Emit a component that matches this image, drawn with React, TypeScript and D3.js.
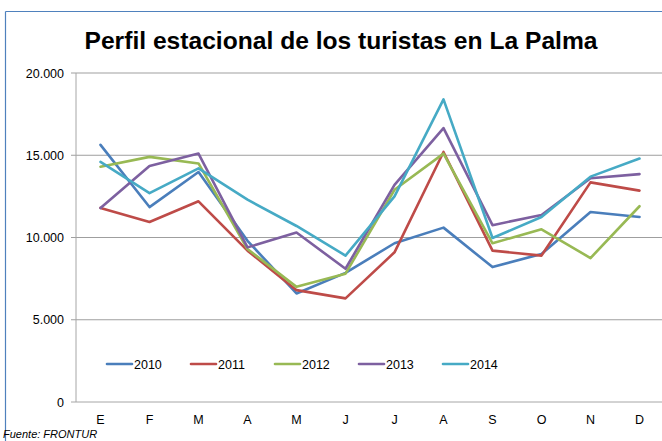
import * as d3 from 'd3';

const months = ['E', 'F', 'M', 'A', 'M', 'J', 'J', 'A', 'S', 'O', 'N', 'D'];
const years = ['2010', '2011', '2012', '2013', '2014'];
const colors = ['#4A7EBB', '#BE4B48', '#98B954', '#7D60A0', '#46AAC5'];

const s2010 = [15630, 11850, 13980, 9800, 6600, 7850, 9650, 10600, 8200, 9000, 11550, 11250];
const s2011 = [11800, 10940, 12200, 9200, 6800, 6300, 9100, 15200, 9200, 8900, 13350, 12850];
const s2012 = [14300, 14900, 14500, 9300, 7000, 7800, 12900, 15100, 9650, 10500, 8750, 11900];
const s2013 = [11800, 14350, 15100, 9400, 10300, 8100, 13200, 16650, 10750, 11370, 13600, 13850];
const s2014 = [14600, 12700, 14200, 12300, 10700, 8900, 12500, 18400, 9970, 11250, 13700, 14800];
const series = [s2010, s2011, s2012, s2013, s2014];

const yTicks = [0, 5000, 10000, 15000, 20000];

const W = 662;
const H = 441;
const font = '"Liberation Sans", Arial, sans-serif';

export default function App() {
  const x = d3.scalePoint<number>().domain(d3.range(12)).range([76, 664]).padding(0.5);
  const y = d3.scaleLinear().domain([0, 20000]).range([402, 73]);
  const line = d3.line<number>().x((_, i) => x(i)!).y(d => y(d));
  const fmt = (v: number) => (v === 0 ? '0' : d3.format(',')(v).replace(/,/g, '.'));
  const legendX = d3.scaleLinear().domain([0, 1]).range([107, 191]);

  return (
    <div style={{ position: 'fixed', left: 0, top: 0 }}>
      <svg width={W} height={H} style={{ display: 'block', background: '#fff' }}>
        {/* chart border */}
        <line x1={5.5} y1={11.5} x2={W} y2={11.5} stroke="#4F81BD" strokeWidth={1.2} />
        <line x1={5.5} y1={11.5} x2={5.5} y2={H} stroke="#4F81BD" strokeWidth={1.2} />

        <text x={341} y={49} textAnchor="middle" fontFamily={font} fontWeight="bold" fontSize={24}
          textLength={513} lengthAdjust="spacingAndGlyphs" fill="#000">
          Perfil estacional de los turistas en La Palma
        </text>

        {/* grid & y axis */}
        {yTicks.map(t => (
          <g key={t}>
            <line x1={71} x2={W} y1={y(t)} y2={y(t)} stroke={t === 0 ? '#A6A6A6' : '#9F9F9F'} strokeWidth={1} />
            <text x={64} y={y(t) + 4.5} textAnchor="end" fontFamily={font} fontSize={12.5} fill="#000">
              {fmt(t)}
            </text>
          </g>
        ))}
        <line x1={76} x2={76} y1={73} y2={402} stroke="#A6A6A6" strokeWidth={1} />

        {months.map((m, i) => (
          <text key={i} x={x(i)} y={424} textAnchor="middle" fontFamily={font} fontSize={12.5} fill="#000">
            {m}
          </text>
        ))}

        {series.map((s, k) => (
          <path key={years[k]} d={line(s)!} fill="none" stroke={colors[k]} strokeWidth={2.6}
            strokeLinejoin="round" strokeLinecap="round" />
        ))}

        {/* legend */}
        {years.map((yr, k) => (
          <g key={yr}>
            <line x1={legendX(k)} x2={legendX(k) + 25} y1={364} y2={364} stroke={colors[k]} strokeWidth={2.6}
              strokeLinecap="round" />
            <text x={legendX(k) + 27} y={368.5} fontFamily={font} fontSize={12.5} fill="#000">{yr}</text>
          </g>
        ))}

        <text x={3} y={438} fontFamily={font} fontStyle="italic" fontSize={11} fill="#000">
          Fuente: FRONTUR
        </text>
      </svg>
    </div>
  );
}
